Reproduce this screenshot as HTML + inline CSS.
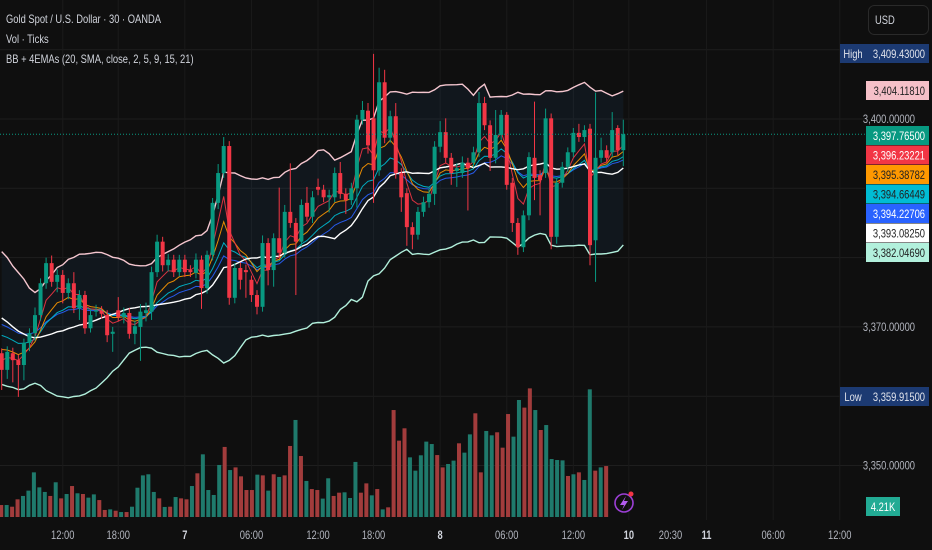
<!DOCTYPE html>
<html><head><meta charset="utf-8">
<style>
html,body{margin:0;padding:0;background:#0f0f0f;overflow:hidden}
svg{display:block;font-family:"Liberation Sans Narrow","Liberation Sans",sans-serif}
</style></head>
<body>
<svg id="chart" width="932" height="550" viewBox="0 0 932 550" xmlns="http://www.w3.org/2000/svg">
<rect width="932" height="550" fill="#0f0f0f"/>
<g id="grid"></g>
<g id="bands"></g>
<g id="vol"></g>
<g id="emas"></g>
<g id="candles"></g>
<g id="axis"></g>
<g id="taxis"></g>
<g font-size="12" fill="#d1d4dc">
<text x="6" y="23">Gold Spot / U.S. Dollar · 30 · OANDA</text>
<text x="6" y="43">Vol · Ticks</text>
<text x="6" y="63">BB + 4EMAs (20, SMA, close, 2, 5, 9, 15, 21)</text>
</g>
<g>
<rect x="868.5" y="5.5" width="60" height="29" rx="6" fill="#0f0f0f" stroke="#2a2a2a"/>
<text x="875" y="24" font-size="12" fill="#d1d4dc">USD</text>
</g>
<g>
<circle cx="624" cy="503" r="9" fill="none" stroke="#9c3fd6" stroke-width="1.6"/>
<path d="M626 496 L620 505 L624 505 L622 510 L628 501 L624 501 Z" fill="#b45cf0"/>
<circle cx="631" cy="494" r="2.5" fill="#f23645"/>
</g>
</svg>
<script>
const prevCloses=[3379,3378,3379,3377,3376,3377,3375,3374,3375,3372,3371,3372,3370,3368,3369,3367,3366,3367,3365,3364];
const opens=[3366.2,3363.8,3366.2,3365.2,3364.5,3367.7,3369.1,3371.7,3376.3,3379.2,3376.5,3377.5,3374.9,3376.3,3372.7,3374.6,3369.8,3372.2,3372.3,3371.7,3369.0,3372.4,3371.4,3372.0,3369.0,3370.0,3372.0,3372.2,3377.9,3382.3,3378.9,3379.7,3377.9,3379.7,3378.2,3377.8,3379.7,3375.6,3380.4,3387.9,3392.2,3396.1,3374.2,3378.5,3378.2,3376.8,3374.6,3372.9,3382.1,3378.2,3382.8,3380.7,3386.6,3385.0,3382.3,3387.9,3385.9,3390.2,3389.8,3388.7,3388.7,3392.2,3389.2,3388.3,3390.0,3399.9,3401.2,3400.1,3392.6,3405.3,3397.3,3400.4,3392.2,3389.3,3384.4,3383.3,3386.6,3388.0,3389.2,3396.0,3398.1,3394.4,3392.5,3392.2,3393.7,3393.7,3395.2,3402.3,3399.1,3394.4,3397.7,3400.6,3390.8,3385.0,3381.5,3386.1,3394.4,3391.9,3392.2,3400.1,3383.0,3390.8,3393.1,3395.2,3398.0,3397.4,3398.6,3382.5,3394.4,3395.5,3395.2,3398.7,3395.5];
const closes=[3363.8,3366.4,3365.2,3364.5,3367.7,3369.1,3371.7,3376.3,3379.2,3376.5,3377.5,3374.9,3376.3,3372.7,3374.6,3369.8,3371.7,3372.4,3371.9,3368.8,3369.3,3371.4,3372.0,3369.0,3370.1,3372.2,3372.4,3377.9,3382.3,3378.9,3379.7,3377.9,3379.7,3377.9,3377.9,3379.7,3375.6,3380.4,3387.9,3392.2,3396.1,3374.2,3378.5,3376.8,3377.9,3374.6,3372.9,3382.1,3378.2,3382.8,3380.7,3386.6,3385.0,3382.3,3387.6,3385.9,3388.7,3389.8,3388.7,3389.0,3392.2,3389.2,3388.3,3390.0,3399.9,3401.3,3396.2,3392.6,3405.3,3397.3,3400.4,3392.2,3388.7,3384.4,3383.3,3386.6,3388.0,3389.2,3396.0,3398.1,3394.4,3392.2,3392.9,3393.7,3392.9,3395.2,3402.3,3399.1,3394.4,3397.7,3400.6,3390.5,3385.0,3381.5,3386.1,3394.5,3391.5,3391.2,3400.1,3383.0,3390.8,3393.1,3395.2,3398.0,3397.4,3398.4,3381.8,3394.4,3395.5,3394.4,3398.4,3395.5,3397.8];
const highs=[3366.9,3367.2,3367.0,3366.0,3368.3,3369.8,3372.8,3377.0,3380.0,3380.3,3378.3,3378.2,3377.0,3377.9,3375.3,3375.2,3372.6,3373.2,3373.0,3372.4,3370.0,3374.3,3372.8,3372.7,3370.9,3373.3,3373.5,3378.7,3383.3,3383.0,3380.5,3380.4,3380.4,3380.4,3378.9,3380.6,3380.3,3381.0,3388.6,3393.5,3397.4,3396.8,3379.2,3379.3,3379.0,3377.4,3375.3,3383.2,3382.8,3383.5,3390.1,3387.6,3393.6,3385.7,3388.4,3390.2,3389.6,3391.4,3390.5,3389.8,3393.0,3393.8,3390.0,3390.8,3400.6,3402.6,3402.3,3409.4,3407.4,3407.1,3401.2,3402.3,3392.9,3390.0,3385.1,3387.3,3388.8,3390.0,3396.8,3399.7,3400.1,3395.1,3393.6,3394.6,3394.4,3396.0,3403.9,3403.2,3399.8,3401.3,3401.3,3401.0,3391.5,3385.7,3386.8,3395.2,3402.5,3392.6,3401.5,3400.8,3391.5,3393.8,3395.9,3398.7,3399.3,3399.1,3399.3,3403.8,3397.3,3396.2,3401.0,3399.1,3399.9];
const lows=[3360.9,3362.5,3362.0,3359.9,3362.3,3366.5,3368.0,3370.9,3375.5,3375.8,3375.0,3373.4,3374.0,3372.0,3371.0,3369.0,3369.2,3371.5,3371.2,3367.8,3366.4,3370.8,3370.5,3368.3,3367.5,3365.1,3370.8,3371.0,3377.2,3378.0,3378.0,3377.2,3377.3,3377.2,3377.2,3377.0,3372.6,3374.8,3379.6,3387.0,3391.5,3373.2,3373.4,3375.4,3374.2,3373.6,3371.8,3372.2,3376.0,3375.8,3380.0,3380.0,3384.3,3374.6,3381.6,3385.2,3385.0,3389.0,3388.0,3386.5,3388.0,3388.5,3386.3,3387.6,3387.2,3399.2,3395.0,3387.9,3391.8,3396.5,3396.6,3391.4,3386.6,3381.7,3381.2,3382.6,3385.9,3387.2,3387.6,3395.2,3393.7,3390.5,3390.2,3391.5,3386.8,3393.0,3394.5,3398.4,3392.5,3393.6,3397.0,3389.8,3383.7,3380.4,3380.8,3385.4,3388.3,3386.1,3391.5,3381.2,3382.0,3390.1,3392.4,3394.5,3396.7,3396.7,3378.9,3376.5,3393.7,3393.7,3394.5,3394.8,3393.2];
const volumes=[0.99,0.99,0.85,1.46,1.74,2.18,3.69,2.45,2.07,1.74,2.87,1.54,1.90,2.56,1.96,1.90,1.60,1.87,1.40,0.58,0.63,0.52,0.41,0.41,0.85,2.42,3.44,3.53,2.07,1.54,0.83,0.85,1.65,1.54,1.46,2.56,3.61,5.18,2.23,1.82,4.30,5.79,3.88,4.10,3.36,2.23,2.23,3.50,3.44,2.18,3.53,3.31,3.44,5.87,8.02,5.04,2.98,2.31,2.23,1.52,3.20,1.74,2.01,2.04,1.57,4.55,2.01,2.78,1.79,2.31,0.63,0.80,8.84,6.31,7.33,4.93,3.83,5.10,6.23,6.03,5.12,4.10,4.38,4.66,6.09,5.32,6.83,8.57,3.69,7.11,6.75,7.00,5.73,8.51,6.64,9.67,9.04,10.63,8.84,7.19,7.60,4.79,4.71,4.68,3.39,3.53,3.69,3.06,10.55,3.83,4.10,4.21];
const priceTicks=[3410,3400,3390,3380,3370,3360,3350];
const priceLabels=["3,400.00000","3,370.00000","3,350.00000"];
const priceLabelValues=[3400,3370,3350];
const timeLabels=["12:00","18:00","7","06:00","12:00","18:00","8","06:00","12:00","10","20:30","11","06:00","12:00"];
const timeSlots=[11,21,33,45,57,67,79,91,103,113,120.5,127,139,151];
const tagTexts=["3,404.11810","3,397.76500","3,396.23221","3,395.38782","3,394.66449","3,394.22706","3,393.08250","3,382.04690"];

const NS="http://www.w3.org/2000/svg";
function el(tag,attrs,parent){const e=document.createElementNS(NS,tag);for(const k in attrs)e.setAttribute(k,attrs[k]);parent.appendChild(e);return e;}
const X=i=>1.7+5.55*i;
const VX=i=>1.2+5.45*i;
const Y=p=>119+(3400-p)*6.93;
const VY=v=>517-v*12.1;
const G=document.getElementById('grid'),B=document.getElementById('bands'),V=document.getElementById('vol'),E=document.getElementById('emas'),C=document.getElementById('candles'),A=document.getElementById('axis'),T=document.getElementById('taxis');

priceTicks.forEach(p=>{const l=el('line',{x1:0,x2:865,y1:Y(p),y2:Y(p),stroke:'#1e1e1e','stroke-width':1},G);

});
timeSlots.forEach((s,k)=>{if(timeLabels[k]==='20:30')return;const l=el('line',{x1:X(s),x2:X(s),y1:0,y2:520,stroke:'#1a1a1a','stroke-width':1},G);

});

const all=prevCloses.concat(closes),off=prevCloses.length;
function ema(n){const k=2/(n+1);let e=all[0];const out=[];all.forEach((c,i)=>{e=i===0?c:c*k+e*(1-k);out.push(e);});return out.slice(off);}
const basis=[],upper=[],lower=[];
for(let i=off;i<all.length;i++){const w=all.slice(i-19,i+1);const m=w.reduce((a,b)=>a+b,0)/20;const sd=Math.sqrt(w.reduce((a,b)=>a+(b-m)*(b-m),0)/20);basis.push(m);upper.push(m+2*sd);lower.push(m-2*sd);}
const pts=arr=>arr.map((v,i)=>X(i).toFixed(1)+','+Y(v).toFixed(1)).join(' ');
const fill=el('polygon',{points:pts(upper)+' '+lower.map((v,i)=>[X(i),Y(v)]).reverse().map(p=>p[0].toFixed(1)+','+p[1].toFixed(1)).join(' '),fill:'rgba(40,110,180,0.09)'},B);


const up=el('polyline',{points:pts(upper),fill:'none',stroke:'#f5c6cf','stroke-width':1.4},B);


const lo=el('polyline',{points:pts(lower),fill:'none',stroke:'#b2f0dc','stroke-width':1.4},B);



volumes.forEach((v,i)=>{const upc=closes[i]>=opens[i];const r=el('rect',{x:VX(i)-2,y:VY(v),width:4,height:v*12.1,fill:upc?'#1f7a6c':'#a23c3c'},V);

});

const emaDefs=[[21,'#2962ff'],[15,'#00bcd4'],[9,'#ff9800'],[5,'#f23645']];
emaDefs.forEach(([n,c])=>{const l=el('polyline',{points:pts(ema(n)),fill:'none',stroke:c,'stroke-width':1,opacity:0.9},E);

});
const bl=el('polyline',{points:pts(basis),fill:'none',stroke:'#ffffff','stroke-width':1.4},E);



opens.forEach((o,i)=>{const c=closes[i],upc=c>=o,col=upc?'#089981':'#f23645';const g=el('g',{},C);


el('line',{x1:X(i),x2:X(i),y1:Y(highs[i]),y2:Y(lows[i]),stroke:col,'stroke-width':1},g);
const t=Y(Math.max(o,c)),b=Y(Math.min(o,c));el('rect',{x:X(i)-2,y:t,width:4,height:Math.max(1,b-t),fill:col},g);});

const last=closes[closes.length-1];
const ll=el('line',{x1:0,x2:866,y1:Y(last),y2:Y(last),stroke:'#089981','stroke-width':1,'stroke-dasharray':'1,2'},A);



priceLabels.forEach((t,k)=>{const tx=el('text',{x:915,y:Y(priceLabelValues[k])+4,'text-anchor':'end','font-size':12,fill:'#b2b5be'},A);tx.textContent=t;

});

function tag(y,txt,bg,fg,label,name){const g=el('g',{},A);


if(label){el('rect',{x:840,y:y,width:26,height:19,fill:'#1c3a72'},g);const lt=el('text',{x:853,y:y+14,'text-anchor':'middle','font-size':12,fill:'#e0e3eb'},g);lt.textContent=label;}
el('rect',{x:866,y:y,width:63,height:19,fill:bg},g);const t=el('text',{x:925,y:y+14,'text-anchor':'end','font-size':12,fill:fg},g);t.textContent=txt;}
tag(44,'3,409.43000','#1c3a72','#e0e3eb','High','high-tag');
tag(81,tagTexts[0],'#f5c0c8','#222','', 'upper-band-tag');
tag(126,tagTexts[1],'#089981','#fff','', 'last-price-tag');
tag(145.5,tagTexts[2],'#f23645','#fff','', 'ema5-tag');
tag(165,tagTexts[3],'#ff9800','#222','', 'ema9-tag');
tag(184.5,tagTexts[4],'#00bcd4','#222','', 'ema15-tag');
tag(204,tagTexts[5],'#2962ff','#fff','', 'ema21-tag');
tag(223.5,tagTexts[6],'#ffffff','#222','', 'basis-tag');
tag(243,tagTexts[7],'#b2f0dc','#222','', 'lower-band-tag');
tag(387,'3,359.91500','#1c3a72','#e0e3eb','Low','low-tag');
const vg=el('g',{},A);


el('rect',{x:866,y:497,width:34,height:19,fill:'#22ab94'},vg);
const vt=el('text',{x:883,y:511,'text-anchor':'middle','font-size':12,fill:'#fff'},vg);vt.textContent='4.21K';

timeLabels.forEach((t,k)=>{const bold=/^\d+$/.test(t);const tx=el('text',{x:X(timeSlots[k]),y:539,'text-anchor':'middle','font-size':12,fill:bold?'#d1d4dc':'#b2b5be','font-weight':bold?'bold':'normal'},T);tx.textContent=t;

});

// condense text to mimic the narrow UI font
document.querySelectorAll('#chart text').forEach(t=>{const w=t.getComputedTextLength();if(w>0){t.setAttribute('textLength',(w*0.78).toFixed(1));t.setAttribute('lengthAdjust','spacingAndGlyphs');}});
</script>
</body></html>
